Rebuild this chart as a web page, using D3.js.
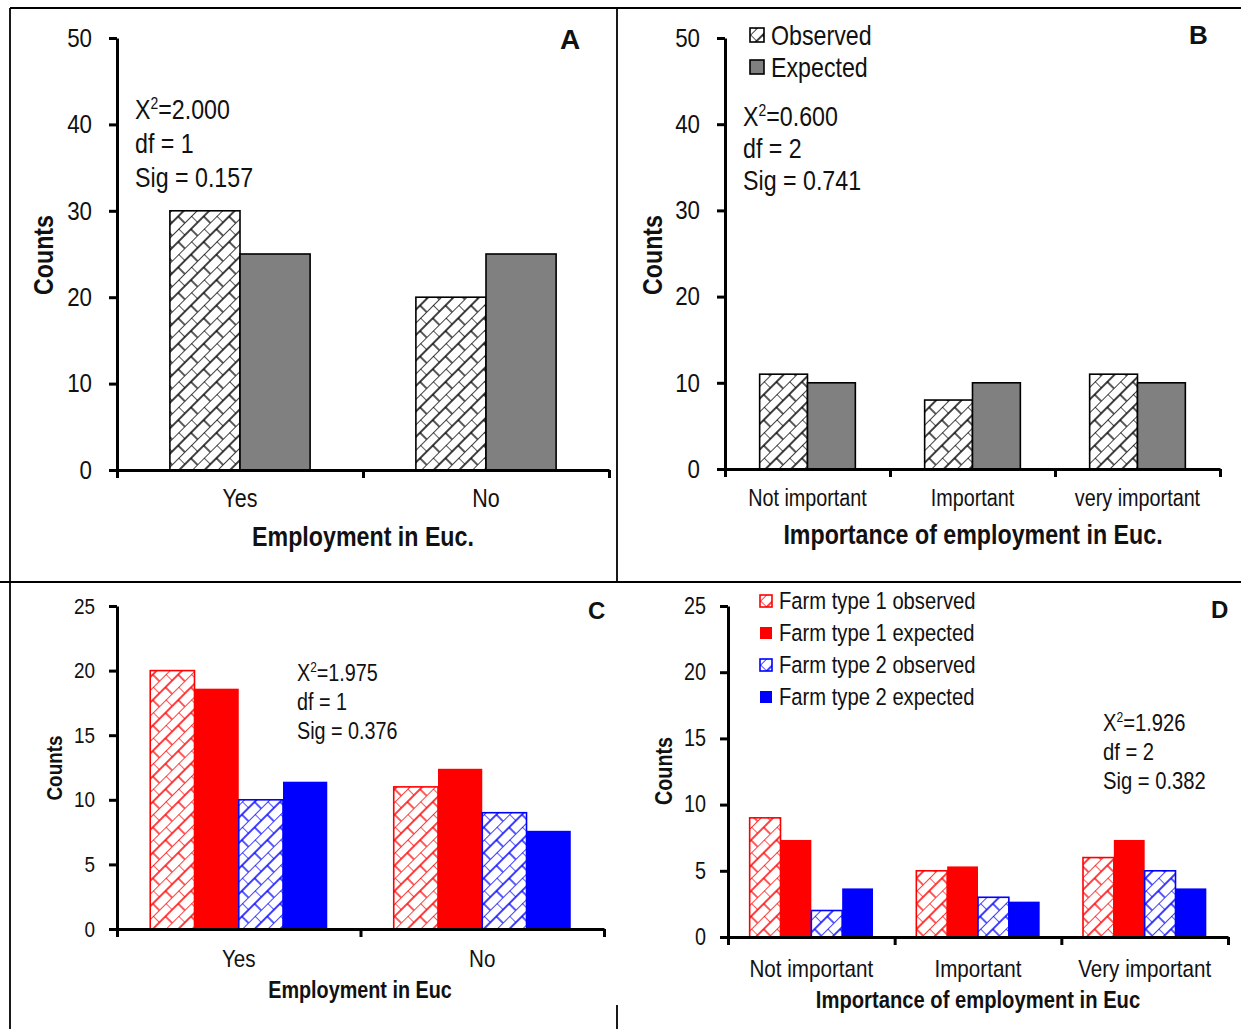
<!DOCTYPE html>
<html>
<head>
<meta charset="utf-8">
<title>Chi-square counts</title>
<script src="https://d3js.org/d3.v7.min.js"></script>
<style>
  body { margin: 0; background: white; }
  text { font-family: "Liberation Sans Narrow", "Arial Narrow", "Liberation Sans", sans-serif; fill: #111; }
</style>
</head>
<body>
<div id="chart"></div>
<script>
// panel A
var catsA = ["Yes", "No"];
var obsA = [30, 20];
var expA = [25, 25];
// panel B
var catsB = ["Not important", "Important", "very important"];
var obsB = [11, 8, 11];
var expB = [10, 10, 10];
// panel C
var catsC = ["Yes", "No"];
var ft1ObsC = [20, 11];
var ft1ExpC = [18.6, 12.4];
var ft2ObsC = [10, 9];
var ft2ExpC = [11.4, 7.6];
// panel D
var catsD = ["Not important", "Important", "Very important"];
var ft1ObsD = [9, 5, 6];
var ft1ExpD = [7.33, 5.33, 7.33];
var ft2ObsD = [2, 3, 5];
var ft2ExpD = [3.67, 2.67, 3.67];

var ticks50 = [0, 10, 20, 30, 40, 50];
var ticks25 = [0, 5, 10, 15, 20, 25];

var statsA = ["2.000", "1", "0.157"];
var statsB = ["0.600", "2", "0.741"];
var statsC = ["1.975", "1", "0.376"];
var statsD = ["1.926", "2", "0.382"];

var legendB = ["Observed", "Expected"];
var legendD = ["Farm type 1 observed", "Farm type 1 expected", "Farm type 2 observed", "Farm type 2 expected"];

var w = 1241, h = 1029;
var sq = 0.86; // no narrow font installed, squeeze horizontally

var svg = d3.select("#chart").append("svg")
    .attr("width", w)
    .attr("height", h);

// brick hatch patterns
var defs = svg.append("defs");
function hatch(id, color) {
  var p = defs.append("pattern")
      .attr("id", id)
      .attr("patternUnits", "userSpaceOnUse")
      .attr("width", 18)
      .attr("height", 18)
      .attr("patternTransform", "rotate(-45)");
  p.append("rect").attr("width", 18).attr("height", 18).attr("fill", "white");
  p.append("path")
      .attr("d", "M0,0H18M0,9H18M0,0V9M9,9V18")
      .attr("stroke", color)
      .attr("stroke-width", 1.3)
      .attr("fill", "none");
}
hatch("hBlack", "#000");
hatch("hRed", "#ff0000");
hatch("hBlue", "#0000ff");

// frame lines
var frame = [
  [10, 8, 1241, 8],
  [10, 8, 10, 1029],
  [617, 8, 617, 582],
  [0, 582, 1241, 582],
  [617, 1005, 617, 1029]
];
svg.selectAll(".frame").data(frame).enter().append("line")
    .attr("class", "frame")
    .attr("x1", function(d){ return d[0]; })
    .attr("y1", function(d){ return d[1]; })
    .attr("x2", function(d){ return d[2]; })
    .attr("y2", function(d){ return d[3]; })
    .attr("stroke", "#000")
    .attr("stroke-width", 1.8);

function drawPanel(p) {
  var g = svg.append("g");

  var x = d3.scaleBand().domain(p.cats).range([p.x0, p.x1]);
  var inner = d3.scaleBand()
      .domain(d3.range(p.series.length))
      .range([0, x.bandwidth() * p.groupFrac]);
  var off = x.bandwidth() * (1 - p.groupFrac) / 2;
  var y = d3.scaleLinear().domain([0, p.ticks[p.ticks.length - 1]]).range([p.yBase, p.yTop]);

  p.series.forEach(function(s, si) {
    g.selectAll(".bar" + si)
        .data(s.values)
        .enter()
        .append("rect")
        .attr("x", function(d, i){ return x(p.cats[i]) + off + inner(si); })
        .attr("y", function(d){ return y(d); })
        .attr("width", inner.bandwidth())
        .attr("height", function(d){ return y(0) - y(d); })
        .attr("fill", s.fill)
        .attr("stroke", s.stroke)
        .attr("stroke-width", s.stroke == "none" ? 0 : 1.6);
  });

  // y axis
  var ya = g.append("g")
      .attr("transform", "translate(" + p.x0 + ",0)")
      .call(d3.axisLeft(y).tickValues(p.ticks).tickSize(8).tickPadding(p.tickPad).tickSizeOuter(0));
  ya.selectAll("text").attr("font-size", p.tickFs).attr("fill", "#111");

  // x axis (ticks between categories)
  var xl = d3.scaleLinear().domain([0, p.cats.length]).range([p.x0, p.x1]);
  var xa = g.append("g")
      .attr("transform", "translate(0," + p.yBase + ")")
      .call(d3.axisBottom(xl).tickValues(d3.range(p.cats.length + 1)).tickSize(8).tickFormat("").tickSizeOuter(0));
  xa.selectAll("text").remove();

  g.selectAll(".domain, .tick line").attr("stroke", "#000").attr("stroke-width", 3);

  g.selectAll(".xlab")
      .data(p.cats)
      .enter()
      .append("text")
      .attr("x", function(d){ return x(d) + x.bandwidth() / 2; })
      .attr("y", p.yBase + p.xlabOff)
      .attr("text-anchor", "middle")
      .attr("font-size", p.xlabFs)
      .text(function(d){ return d; });

  g.append("text")
      .attr("x", p.titleX)
      .attr("y", p.titleY)
      .attr("text-anchor", "middle")
      .attr("font-size", p.titleFs)
      .attr("font-weight", "bold")
      .text(p.title);

  g.append("text")
      .attr("transform", "translate(" + p.countsX + "," + p.countsY + ") rotate(-90)")
      .attr("text-anchor", "middle")
      .attr("font-size", p.countsFs)
      .attr("font-weight", "bold")
      .text("Counts");

  g.append("text")
      .attr("class", "nosq")
      .attr("x", p.letterX)
      .attr("y", p.letterY)
      .attr("font-size", p.letterFs)
      .attr("font-weight", "bold")
      .text(p.letter);

  // chi-square block
  var st = g.append("text").attr("x", p.statX).attr("font-size", p.statFs);
  var chi = st.append("tspan").attr("x", p.statX).attr("y", p.statY);
  chi.append("tspan").text("\u03a7");
  chi.append("tspan").attr("dy", -p.statFs * 0.38).attr("font-size", p.statFs * 0.6).text("2");
  chi.append("tspan").attr("dy", p.statFs * 0.38).text("=" + p.stats[0]);
  st.append("tspan").attr("x", p.statX).attr("y", p.statY + p.statGap).text("df = " + p.stats[1]);
  st.append("tspan").attr("x", p.statX).attr("y", p.statY + 2 * p.statGap).text("Sig = " + p.stats[2]);

  // legend
  if (p.legend) {
    var lg = g.selectAll(".leg")
        .data(p.legend)
        .enter()
        .append("g")
        .attr("transform", function(d, i){ return "translate(" + p.legX + "," + (p.legY + i * p.legGap) + ")"; });
    lg.append("rect")
        .attr("x", 0)
        .attr("y", -p.legBox / 2)
        .attr("width", p.legBox)
        .attr("height", p.legBox)
        .attr("fill", function(d, i){ return p.series[i].fill; })
        .attr("stroke", function(d, i){ return p.series[i].stroke; })
        .attr("stroke-width", function(d, i){ return p.series[i].stroke == "none" ? 0 : 1.6; });
    lg.append("text")
        .attr("x", p.legBox + 7)
        .attr("y", p.legFs * 0.36)
        .attr("font-size", p.legFs)
        .text(function(d){ return d; });
  }
}

drawPanel({
  cats: catsA,
  series: [
    {values: obsA, fill: "url(#hBlack)", stroke: "#000"},
    {values: expA, fill: "#808080", stroke: "#000"}
  ],
  ticks: ticks50, x0: 117, x1: 609, yBase: 470, yTop: 38, groupFrac: 0.57,
  tickFs: 26, tickPad: 17, xlabFs: 25, xlabOff: 37,
  title: "Employment in Euc.", titleX: 363, titleY: 546, titleFs: 27,
  countsX: 53, countsY: 255, countsFs: 27,
  letter: "A", letterX: 560, letterY: 49, letterFs: 28,
  stats: statsA, statFs: 27, statX: 135, statY: 119, statGap: 34
});

drawPanel({
  cats: catsB,
  series: [
    {values: obsB, fill: "url(#hBlack)", stroke: "#000"},
    {values: expB, fill: "#808080", stroke: "#000"}
  ],
  ticks: ticks50, x0: 725, x1: 1220, yBase: 469, yTop: 38, groupFrac: 0.58,
  tickFs: 26, tickPad: 17, xlabFs: 23, xlabOff: 37,
  title: "Importance of employment in Euc.", titleX: 973, titleY: 544, titleFs: 27,
  countsX: 662, countsY: 255, countsFs: 27,
  letter: "B", letterX: 1189, letterY: 44, letterFs: 26,
  stats: statsB, statFs: 27, statX: 743, statY: 126, statGap: 32,
  legend: legendB, legX: 750, legY: 35, legGap: 32, legBox: 14, legFs: 27
});

drawPanel({
  cats: catsC,
  series: [
    {values: ft1ObsC, fill: "url(#hRed)", stroke: "#ff0000"},
    {values: ft1ExpC, fill: "#ff0000", stroke: "none"},
    {values: ft2ObsC, fill: "url(#hBlue)", stroke: "#0000ff"},
    {values: ft2ExpC, fill: "#0000ff", stroke: "none"}
  ],
  ticks: ticks25, x0: 117, x1: 604, yBase: 929, yTop: 606, groupFrac: 0.727,
  tickFs: 22, tickPad: 14, xlabFs: 24, xlabOff: 38,
  title: "Employment in Euc", titleX: 360, titleY: 998, titleFs: 23,
  countsX: 62, countsY: 768, countsFs: 22,
  letter: "C", letterX: 588, letterY: 619, letterFs: 24,
  stats: statsC, statFs: 23, statX: 297, statY: 681, statGap: 29
});

drawPanel({
  cats: catsD,
  series: [
    {values: ft1ObsD, fill: "url(#hRed)", stroke: "#ff0000"},
    {values: ft1ExpD, fill: "#ff0000", stroke: "none"},
    {values: ft2ObsD, fill: "url(#hBlue)", stroke: "#0000ff"},
    {values: ft2ExpD, fill: "#0000ff", stroke: "none"}
  ],
  ticks: ticks25, x0: 728, x1: 1228, yBase: 937, yTop: 606, groupFrac: 0.74,
  tickFs: 23, tickPad: 14, xlabFs: 24, xlabOff: 40,
  title: "Importance of employment in Euc", titleX: 978, titleY: 1008, titleFs: 23.5,
  countsX: 672, countsY: 771, countsFs: 23,
  letter: "D", letterX: 1211, letterY: 618, letterFs: 24,
  stats: statsD, statFs: 23.5, statX: 1103, statY: 731, statGap: 29,
  legend: legendD, legX: 760, legY: 601, legGap: 32, legBox: 12, legFs: 23.5
});

// squeeze text around its anchor point
svg.selectAll("text:not(.nosq)").each(function() {
  var t = d3.select(this);
  var tr = t.attr("transform");
  if (tr) {
    t.attr("transform", tr + " scale(" + sq + ",1)");
    return;
  }
  var ax = +t.attr("x") || 0;
  t.attr("transform", "translate(" + ax + ",0) scale(" + sq + ",1) translate(" + (-ax) + ",0)");
});
</script>
</body>
</html>
